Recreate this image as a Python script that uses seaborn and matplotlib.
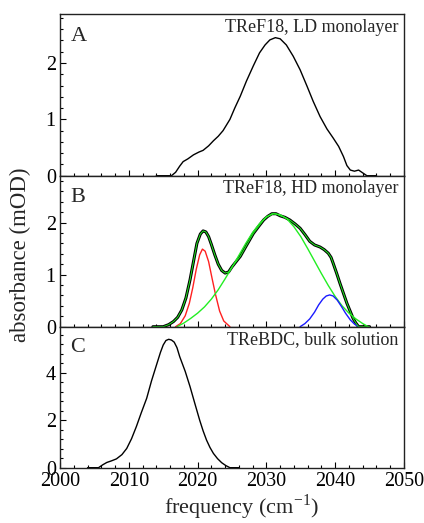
import matplotlib
matplotlib.use("Agg")
import matplotlib.pyplot as plt
from matplotlib.ticker import MultipleLocator
import seaborn as sns
import pandas as pd

# Panel A: TReF18, LD monolayer
a_freq = [2014.0, 2016.2, 2016.8, 2017.4, 2017.9, 2018.6, 2019.4, 2020.2, 2020.8, 2021.6, 2022.3,
          2023.0, 2023.7, 2024.2, 2024.7, 2025.4, 2026.2, 2027.1, 2028.1, 2029.0, 2029.8, 2030.5,
          2031.3, 2032.0, 2032.9, 2033.9, 2034.9, 2035.9, 2036.8, 2037.8, 2038.8, 2039.7, 2040.5,
          2041.2, 2041.7, 2042.2, 2042.8, 2043.4, 2044.0, 2044.6, 2046.0]
a_abs = [0.0, 0.0, 0.06, 0.17, 0.25, 0.30, 0.37, 0.42, 0.45, 0.53, 0.62,
         0.70, 0.80, 0.90, 1.00, 1.20, 1.41, 1.68, 1.95, 2.18, 2.32, 2.41,
         2.45, 2.43, 2.32, 2.12, 1.88, 1.59, 1.32, 1.05, 0.83, 0.67, 0.52,
         0.34, 0.18, 0.10, 0.08, 0.10, 0.05, 0.0, 0.0]

# Panel B: TReF18, HD monolayer (data and fit)
b_freq = [2013.5, 2015.0, 2015.8, 2016.5, 2017.1, 2017.7, 2018.3, 2018.9, 2019.4, 2019.9, 2020.4,
          2020.8, 2021.2, 2021.6, 2022.0, 2022.5, 2023.0, 2023.5, 2024.0, 2024.5, 2025.0, 2025.6,
          2026.2, 2027.1, 2028.1, 2028.9, 2029.6, 2030.2, 2030.8, 2031.4, 2032.0, 2032.7, 2033.4,
          2034.2, 2034.9, 2035.6, 2036.3, 2037.0, 2037.8, 2038.4, 2039.0, 2039.4, 2039.7, 2040.2,
          2040.7, 2041.2, 2041.7, 2042.2, 2042.6, 2043.0, 2043.4, 2045.0]
b_abs = [0.0, 0.0, 0.04, 0.10, 0.18, 0.32, 0.55, 0.90, 1.25, 1.60, 1.78,
         1.84, 1.82, 1.73, 1.58, 1.38, 1.20, 1.08, 1.03, 1.05, 1.15, 1.25,
         1.35, 1.56, 1.79, 1.93, 2.05, 2.12, 2.17, 2.17, 2.13, 2.10, 2.05,
         1.97, 1.89, 1.77, 1.64, 1.57, 1.53, 1.48, 1.41, 1.33, 1.22, 1.03,
         0.83, 0.64, 0.45, 0.29, 0.16, 0.07, 0.0, 0.0]

red_freq = [2016.8, 2017.5, 2018.2, 2018.8, 2019.3, 2019.8, 2020.3, 2020.7, 2021.1, 2021.6,
            2022.1, 2022.6, 2023.2, 2023.8, 2024.7]
red_abs = [0.0, 0.06, 0.21, 0.45, 0.75, 1.10, 1.38, 1.49, 1.45, 1.25, 0.93, 0.62, 0.30, 0.11, 0.0]

green_freq = [2017.0, 2018.0, 2019.0, 2020.0, 2021.0, 2022.0, 2023.0, 2024.0, 2025.0, 2026.0,
              2027.0, 2028.0, 2029.0, 2030.0, 2031.0, 2032.0, 2033.0, 2034.0, 2035.0, 2036.0,
              2037.0, 2038.0, 2039.0, 2040.0, 2041.0, 2042.0, 2043.0, 2044.0, 2044.8]
green_abs = [0.0, 0.07, 0.16, 0.26, 0.38, 0.53, 0.71, 0.92, 1.14, 1.37, 1.60, 1.81, 1.98, 2.11,
             2.17, 2.15, 2.07, 1.92, 1.73, 1.50, 1.26, 1.02, 0.79, 0.58, 0.40, 0.26, 0.15, 0.06, 0.0]

blue_freq = [2034.9, 2035.6, 2036.3, 2037.0, 2037.6, 2038.2, 2038.7, 2039.2, 2039.7, 2040.3,
             2040.9, 2041.5, 2042.2, 2042.8, 2043.4]
blue_abs = [0.0, 0.06, 0.15, 0.28, 0.42, 0.53, 0.59, 0.61, 0.59, 0.51, 0.39, 0.26, 0.13, 0.05, 0.0]

# Panel C: TReBDC, bulk solution
c_freq = [2004.0, 2005.6, 2006.2, 2006.8, 2007.5, 2008.2, 2009.0, 2009.7, 2010.4, 2011.1, 2011.8,
          2012.6, 2013.3, 2014.1, 2014.6, 2015.0, 2015.4, 2015.8, 2016.2, 2016.6, 2017.0, 2017.4,
          2018.2, 2018.9, 2019.6, 2020.3, 2020.8, 2021.3, 2021.8, 2022.3, 2022.9, 2023.5, 2024.1,
          2024.7, 2026.0]
c_abs = [0.0, 0.0, 0.12, 0.22, 0.29, 0.37, 0.55, 0.81, 1.22, 1.73, 2.30,
         2.92, 3.65, 4.39, 4.85, 5.16, 5.35, 5.40, 5.37, 5.28, 5.05, 4.67,
         4.05, 3.41, 2.70, 2.00, 1.55, 1.16, 0.85, 0.60, 0.38, 0.21, 0.09,
         0.0, 0.0]

panel_letters = ["A", "B", "C"]
panel_titles = ["TReF18, LD monolayer", "TReF18, HD monolayer", "TReBDC, bulk solution"]

sns.set_theme(style="ticks")
plt.rcParams["font.family"] = ["Liberation Serif", "DejaVu Serif"]
plt.rcParams["mathtext.fontset"] = "custom"
plt.rcParams["mathtext.rm"] = "Liberation Serif"

fig = plt.figure(figsize=(4.24, 5.23), dpi=100)
W, H = 424, 523
left, right = 60 / W, 404 / W
bounds = [(14, 175.7), (175.7, 326.7), (326.7, 467.7)]
axes = []
for top, bot in bounds:
    ax = fig.add_axes([left, 1 - bot / H, right - left, (bot - top) / H])
    axes.append(ax)

dfA = pd.DataFrame({"freq": a_freq, "abs": a_abs})
sns.lineplot(data=dfA, x="freq", y="abs", ax=axes[0], color="black", lw=1.0, sort=False)

dfB = pd.DataFrame({"freq": b_freq, "abs": b_abs})
sns.lineplot(data=dfB, x="freq", y="abs", ax=axes[1], color="black", lw=2.2, sort=False)
sns.lineplot(x=red_freq, y=red_abs, ax=axes[1], color="#ff2020", lw=1.0, sort=False)
sns.lineplot(x=green_freq, y=green_abs, ax=axes[1], color="#22ee22", lw=1.0, sort=False)
sns.lineplot(x=blue_freq, y=blue_abs, ax=axes[1], color="#1a1aff", lw=1.0, sort=False)
sns.lineplot(data=dfB, x="freq", y="abs", ax=axes[1], color="#22ee22", lw=0.7, sort=False)

dfC = pd.DataFrame({"freq": c_freq, "abs": c_abs})
sns.lineplot(data=dfC, x="freq", y="abs", ax=axes[2], color="black", lw=1.0, sort=False)

ylims = [(0, 2.87), (0, 2.9), (0, 5.93)]
ymaj = [1, 1, 2]
ymin = [0.2, 0.2, 0.4]
for i, ax in enumerate(axes):
    ax.set_xlim(2000, 2050)
    ax.set_ylim(*ylims[i])
    ax.xaxis.set_major_locator(MultipleLocator(10))
    ax.xaxis.set_minor_locator(MultipleLocator(2))
    ax.yaxis.set_major_locator(MultipleLocator(ymaj[i]))
    ax.yaxis.set_minor_locator(MultipleLocator(ymin[i]))
    ax.tick_params(which="both", direction="in", top=False, right=False, labelsize=14.5,
                   colors="black", width=0.8, pad=3)
    ax.tick_params(which="major", length=4)
    ax.tick_params(which="minor", length=2.5)
    for s in ax.spines.values():
        s.set_linewidth(1.0)
        s.set_color("#222222")
    ax.set_xlabel("")
    ax.set_ylabel("")
    if i < 2:
        ax.tick_params(axis="x", labelbottom=False)
    ax.text(0.03, 0.92, panel_letters[i], transform=ax.transAxes, fontsize=16,
            ha="left", va="top")
    ax.text(0.985, 0.97, panel_titles[i], transform=ax.transAxes, fontsize=13,
            ha="right", va="top")

fig.text(241 / W, 1 - 514 / H, "frequency (cm$^{-1}$)", fontsize=16,
         ha="center", va="baseline")
fig.text(0.048, 1 - 255 / H, "absorbance (mOD)", rotation=90, fontsize=16.5,
         ha="center", va="center")

fig.savefig("out.png", dpi=100)
